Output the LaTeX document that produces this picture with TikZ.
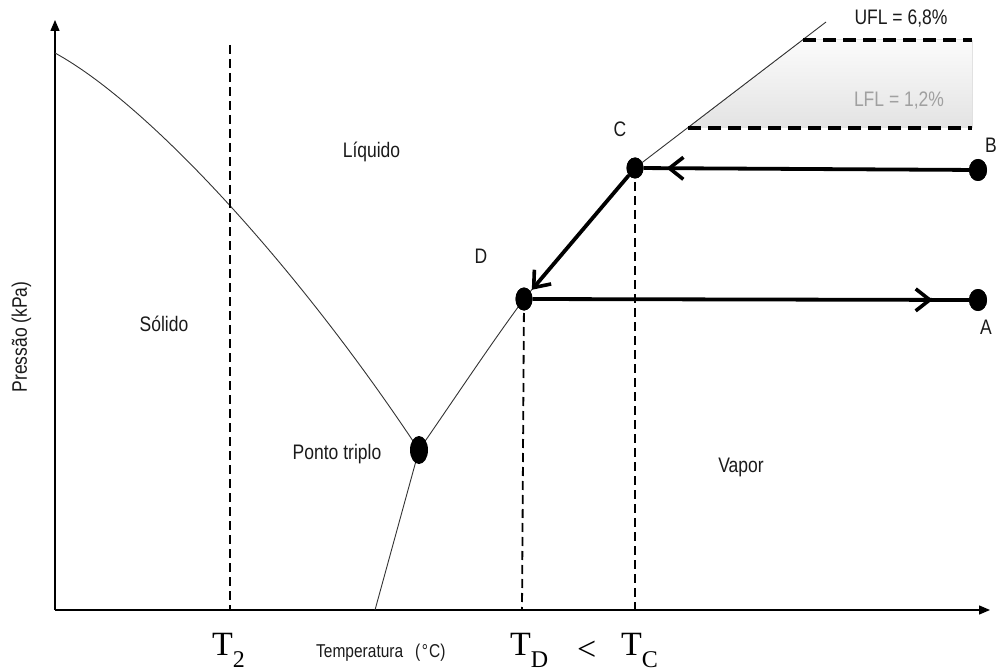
\documentclass[tikz,border=0pt]{standalone}
\usepackage{fontspec}
\setmainfont{Liberation Serif}
\setsansfont{Liberation Sans}
\usepackage{graphicx}
\usetikzlibrary{arrows.meta,shapes.geometric,decorations.markings}
\definecolor{txt}{HTML}{1A1A1A}
\definecolor{lflgray}{HTML}{A0A0A0}
\newcommand\vst[1]{\scalebox{1}[1.2]{#1}}
\begin{document}
\begin{tikzpicture}[x=1pt,y=-1pt,
 lab/.style={font=\sffamily\fontsize{17.5}{20}\selectfont, text=txt, inner sep=0pt, anchor=base},
 tlab/.style={font=\fontsize{34}{36}\selectfont, inner sep=0pt, anchor=base west},
 dot/.style={ellipse, fill=black, inner sep=0pt, minimum width=17pt, minimum height=21pt},
 phase/.style={line width=0.9pt, black!80},
 axis/.style={line width=1.3pt, -{Triangle[length=11pt,width=9pt]}},
 vdash/.style={line width=1.8pt, dash pattern=on 9pt off 5pt},
 hdash/.style={line width=3.5pt, dash pattern=on 13pt off 7pt},
 flow/.style={line width=3.8pt},
 flowtip/.style={-{Straight Barb[length=14pt,width=22pt,line width=3.6pt]}},
 midbarb/.style={decoration={markings, mark=at position #1 with {\arrow{Straight Barb[length=14pt,width=22pt,line width=3.6pt]}}}, postaction={decorate}}]
\useasboundingbox (0,0) rectangle (998,671);

% flammability band
\fill[top color=gray!3, bottom color=gray!22] (803,40) -- (972,40) -- (972,128) -- (688,128) -- cycle;

% axes
\coordinate (O) at (55,610);
\coordinate (Ytop) at (55,20);
\coordinate (Xend) at (990,610);
\draw[axis] (O) -- (Ytop);
\draw[axis] (O) -- (Xend);

% phase boundaries
\draw[phase] (55,53) .. controls (150,105) and (300,270) .. (419,450);
\draw[phase] (419,450) .. controls (455,398) and (490,345) .. (524,299)
             .. controls (561,255) and (598,211) .. (635,168) -- (826,22);
\draw[phase] (419,450) -- (375,610);

% points
\node[dot, minimum width=18pt, minimum height=28pt] (TP) at (419,450) {};
\node[dot] (C) at (635,168) {};
\node[dot, minimum height=23pt] (D) at (524,299) {};
\node[dot, minimum width=18pt, minimum height=22pt] (B) at (978,170) {};
\node[dot, minimum width=18pt, minimum height=22pt] (A) at (978,300) {};

% isotherms
\coordinate (T2top) at (230,45);
\coordinate (T2bot) at (230,610);
\coordinate (TDbot) at (522,610);
\coordinate (TCbot) at (635,610);
\draw[vdash] (T2top) -- (T2bot);
\draw[vdash] (D.center) -- (TDbot);
\draw[vdash] (C.center) -- (TCbot);

% UFL / LFL
\coordinate (UFLl) at (803,40);
\coordinate (UFLr) at (972,40);
\coordinate (LFLl) at (688,128);
\coordinate (LFLr) at (972,128);
\draw[hdash] (UFLl) -- (UFLr);
\draw[hdash] (LFLl) -- (LFLr);

% process arrows
\draw[flow, midbarb=0.93] (B) -- (C);
\draw[flow, flowtip, shorten >=2pt] (C) -- (D);
\draw[flow, midbarb=0.917] (D) -- (A);

% redraw dots on top
\fill (C) ellipse (8.5pt and 10.5pt);
\fill (D) ellipse (8.5pt and 11.5pt);
\fill (B) ellipse (9pt and 11pt);
\fill (A) ellipse (9pt and 11pt);

% labels
\node[lab] (lUFL) at (901,25) {\vst{UFL = 6,8\%}};
\node[lab, text=lflgray] (lLFL) at (899,107) {\vst{LFL = 1,2\%}};
\node[lab] (lC) at (620,137) {\vst{C}};
\node[lab] (lB) at (991,153) {\vst{B}};
\node[lab] (lD) at (481,263) {\vst{D}};
\node[lab] (lA) at (986,334) {\vst{A}};
\node[lab] (lLiq) at (371.5,158) {\vst{Líquido}};
\node[lab] (lSol) at (164,331) {\vst{Sólido}};
\node[lab] (lTP) at (337,459) {\vst{Ponto triplo}};
\node[lab] (lVap) at (741,472) {\vst{Vapor}};
\node[lab, rotate=90] (lP) at (27,337) {\vst{Pressão (kPa)}};
\node[lab, anchor=base west, font=\sffamily\fontsize{15.5}{18}\selectfont] (lTemp) at (316,657) {\vst{Temperatura\hspace{12pt}(\kern1.5pt°\kern1pt C)}};

\node[tlab] (T2) at (212,655) {T\raisebox{-12pt}{\fontsize{24}{24}\selectfont 2}};
\node[tlab] (TD) at (510,655) {T\raisebox{-12pt}{\fontsize{24}{24}\selectfont D}};
\node[tlab, font=\fontsize{34}{36}\selectfont] (lt) at (577,660) {<};
\node[tlab] (TC) at (621,655) {T\raisebox{-12pt}{\fontsize{24}{24}\selectfont C}};
\end{tikzpicture}
\end{document}
